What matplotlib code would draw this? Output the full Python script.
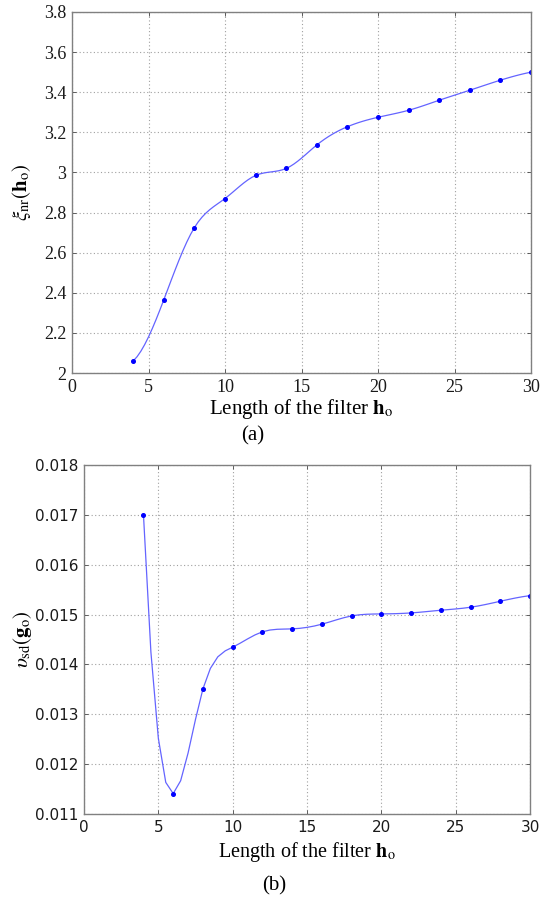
import numpy as np
import matplotlib
matplotlib.use("Agg")
import matplotlib.pyplot as plt

# Filter lengths and the two performance measures
filter_len = [4, 6, 8, 10, 12, 14, 16, 18, 20, 22, 24, 26, 28, 30]
xi_nr = [2.06, 2.365, 2.725, 2.87, 2.985, 3.02, 3.137, 3.228, 3.275,
         3.31, 3.36, 3.41, 3.46, 3.50]
upsilon_sd = [0.01700, 0.01141, 0.01351, 0.014346, 0.014654, 0.014713,
              0.014807, 0.014973, 0.015013, 0.015033, 0.015087, 0.015147,
              0.015267, 0.01538]

x_ticks = [0, 5, 10, 15, 20, 25, 30]
y_ticks_a = [2, 2.2, 2.4, 2.6, 2.8, 3, 3.2, 3.4, 3.6, 3.8]
y_labels_a = ["2", "2.2", "2.4", "2.6", "2.8", "3", "3.2", "3.4", "3.6", "3.8"]
y_ticks_b = [0.011, 0.012, 0.013, 0.014, 0.015, 0.016, 0.017, 0.018]


def spline_curve(x, y, step):
    """Not-a-knot cubic spline through (x, y), sampled every `step`."""
    x = np.asarray(x, float)
    y = np.asarray(y, float)
    n = len(x)
    h = np.diff(x)
    A = np.zeros((n, n))
    b = np.zeros(n)
    for i in range(1, n - 1):
        A[i, i - 1] = h[i - 1]
        A[i, i] = 2 * (h[i - 1] + h[i])
        A[i, i + 1] = h[i]
        b[i] = 6 * ((y[i + 1] - y[i]) / h[i] - (y[i] - y[i - 1]) / h[i - 1])
    # not-a-knot end conditions
    A[0, 0], A[0, 1], A[0, 2] = h[1], -(h[0] + h[1]), h[0]
    A[-1, -3], A[-1, -2], A[-1, -1] = h[-1], -(h[-2] + h[-1]), h[-2]
    M = np.linalg.solve(A, b)
    xs = np.arange(x[0], x[-1] + step / 2, step)
    idx = np.clip(np.searchsorted(x, xs, side="right") - 1, 0, n - 2)
    x0, x1 = x[idx], x[idx + 1]
    hh = x1 - x0
    ys = (M[idx] * (x1 - xs) ** 3 / (6 * hh)
          + M[idx + 1] * (xs - x0) ** 3 / (6 * hh)
          + (y[idx] / hh - M[idx] * hh / 6) * (x1 - xs)
          + (y[idx + 1] / hh - M[idx + 1] * hh / 6) * (xs - x0))
    return xs, ys


plt.rcParams["mathtext.fontset"] = "stix"
serif = "Liberation Serif"
sans = "DejaVu Sans"

W, H = 541, 902
fig = plt.figure(figsize=(W / 100, H / 100), dpi=100)


def px_axes(left, top, right, bottom):
    return fig.add_axes([left / W, 1 - bottom / H, (right - left) / W,
                         (bottom - top) / H])


ax_a = px_axes(72, 12, 531, 373)
ax_b = px_axes(84, 465, 530, 814)

line_col = "#6464ff"
dot_col = "#0000ff"
grid_kw = dict(color="#a0a0a0", linestyle=(0, (1, 2.2)), linewidth=0.8)


def style(ax, tick_font, tick_size):
    ax.set_xlim(0, 30)
    ax.set_xticks(x_ticks)
    ax.grid(True, **grid_kw)
    ax.tick_params(direction="in", top=True, right=True, length=3,
                   width=0.6, color="#444444", pad=4)
    for lab in ax.get_xticklabels() + ax.get_yticklabels():
        lab.set_fontfamily(tick_font)
        lab.set_fontsize(tick_size)
        lab.set_color("#1a1a1a")
    for s in ax.spines.values():
        s.set_color("#808080")
        s.set_linewidth(1.0)


# (a)
xs, ys = spline_curve(filter_len, xi_nr, 0.25)
ax_a.plot(xs, ys, color=line_col, linewidth=0.9)
ax_a.plot(filter_len, xi_nr, "o", color=dot_col, markersize=2.6)
ax_a.set_ylim(2, 3.8)
ax_a.set_yticks(y_ticks_a)
ax_a.set_yticklabels(y_labels_a)
style(ax_a, serif, 13)
ax_a.set_xlabel(r"Length of the filter $\mathbf{h}_{\rm o}$",
                fontfamily=serif, fontsize=15, labelpad=1)
ax_a.set_ylabel(r"$\xi_{\rm nr}(\mathbf{h}_{\rm o})$", fontsize=15,
                labelpad=8)
fig.text(253 / W, 1 - 436 / H, "(a)", ha="center", va="center",
         fontfamily=serif, fontsize=15)

# (b)
xs, ys = spline_curve(filter_len, upsilon_sd, 0.5)
ax_b.plot(xs, ys, color=line_col, linewidth=0.9)
ax_b.plot(filter_len, upsilon_sd, "o", color=dot_col, markersize=2.6)
ax_b.set_ylim(0.011, 0.018)
ax_b.set_yticks(y_ticks_b)
ax_b.set_yticklabels([f"{v:.3f}" for v in y_ticks_b])
style(ax_b, sans, 11)
ax_b.set_xlabel(r"Length of the filter $\mathbf{h}_{\rm o}$",
                fontfamily=serif, fontsize=14.5, labelpad=4)
ax_b.set_ylabel(r"$\upsilon_{\rm sd}(\mathbf{g}_{\rm o})$", fontsize=15,
                labelpad=1)
fig.text(274 / W, 1 - 886 / H, "(b)", ha="center", va="center",
         fontfamily=serif, fontsize=15)

fig.savefig("out.png", dpi=100)
